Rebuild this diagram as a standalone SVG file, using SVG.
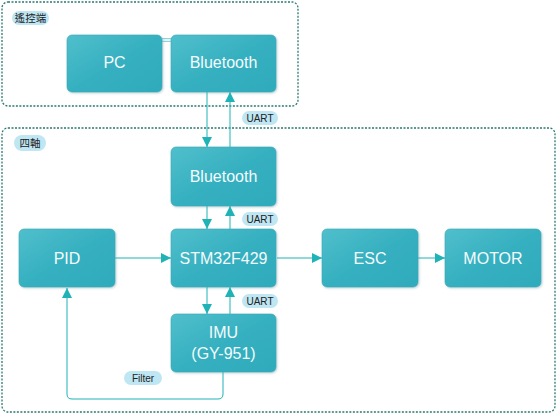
<svg xmlns="http://www.w3.org/2000/svg" width="559" height="418" viewBox="0 0 559 418">
<defs>
<linearGradient id="g" x1="0" y1="0" x2="1" y2="1">
<stop offset="0" stop-color="#50bfcc"/>
<stop offset="0.5" stop-color="#36b0c0"/>
<stop offset="1" stop-color="#2eabbc"/>
</linearGradient>
<marker id="ah" viewBox="0 0 10 10" refX="10" refY="5" markerWidth="10" markerHeight="10" markerUnits="userSpaceOnUse" orient="auto">
<path d="M0,0 L10,5 L0,10 z" fill="#1fb3b8"/>
</marker>
<filter id="sh" x="-10%" y="-10%" width="130%" height="130%">
<feDropShadow dx="1" dy="1" stdDeviation="0.8" flood-color="#6a9aa0" flood-opacity="0.45"/>
</filter>
</defs>
<style>
.ct{fill:#fff;stroke:#2a7a70;stroke-width:1.3;stroke-dasharray:2,1.5}
.nd{fill:url(#g);stroke:#3aa9b6;stroke-width:0.6;filter:url(#sh)}
.nt{font-family:"Liberation Sans",Arial,sans-serif;font-size:16px;fill:#f4fbfc;text-anchor:middle}
.pl{fill:#bfe6f3}
.pt{font-family:"Liberation Sans",Arial,sans-serif;font-size:10px;fill:#222;text-anchor:middle}
.ck{font-family:"Noto Sans CJK TC","Noto Sans CJK SC",sans-serif;font-size:10.5px;fill:#222;text-anchor:middle}
.ln{fill:none;stroke:#1fb3b8;stroke-width:1}
</style>
<g id="containers">
<rect class="ct" x="2" y="2" width="296" height="104" rx="6"/>
<rect class="ct" x="2" y="128" width="553" height="284" rx="6"/>
<rect class="pl" x="12" y="11" width="37" height="14" rx="7"/>
<text class="ck" x="30.5" y="22">遙控端</text>
<rect class="pl" x="14" y="135" width="32" height="16" rx="8"/>
<text class="ck" x="30" y="147">四軸</text>
</g>
<g id="connectors">
<line x1="162" y1="40" x2="172" y2="40" stroke="#8fd3da" stroke-width="4"/>
<line x1="162" y1="40" x2="172" y2="40" stroke="#fff" stroke-width="1.5"/>
<line class="ln" x1="207" y1="92" x2="207" y2="147" marker-end="url(#ah)"/>
<line class="ln" x1="230" y1="147" x2="230" y2="92" marker-end="url(#ah)"/>
<line class="ln" x1="207" y1="206" x2="207" y2="229" marker-end="url(#ah)"/>
<line class="ln" x1="230" y1="229" x2="230" y2="206" marker-end="url(#ah)"/>
<line class="ln" x1="207" y1="287" x2="207" y2="314" marker-end="url(#ah)"/>
<line class="ln" x1="230" y1="314" x2="230" y2="287" marker-end="url(#ah)"/>
<line class="ln" x1="115" y1="258" x2="171" y2="258" marker-end="url(#ah)"/>
<line class="ln" x1="277" y1="258" x2="322" y2="258" marker-end="url(#ah)"/>
<line class="ln" x1="418" y1="258" x2="445" y2="258" marker-end="url(#ah)"/>
<path class="ln" d="M223,372 V394 Q223,399 218,399 H72 Q67,399 67,394 V288" marker-end="url(#ah)"/>
<rect class="pl" x="242" y="111" width="36" height="14" rx="7"/>
<text class="pt" x="260" y="122">UART</text>
<rect class="pl" x="242" y="212" width="36" height="14" rx="7"/>
<text class="pt" x="260" y="223">UART</text>
<rect class="pl" x="242" y="294" width="36" height="14" rx="7"/>
<text class="pt" x="260" y="305">UART</text>
<rect class="pl" x="124" y="371" width="38" height="14" rx="7"/>
<text class="pt" x="143" y="382">Filter</text>
</g>
<g id="pc"><rect class="nd" x="67" y="35" width="95" height="57" rx="5"/><text class="nt" x="114.5" y="68">PC</text></g>
<g id="bt-remote"><rect class="nd" x="171" y="35" width="105" height="57" rx="5"/><text class="nt" x="223.5" y="68">Bluetooth</text></g>
<g id="bt-quad"><rect class="nd" x="171" y="147" width="105" height="59" rx="5"/><text class="nt" x="223.5" y="182">Bluetooth</text></g>
<g id="stm"><rect class="nd" x="171" y="229" width="105" height="58" rx="5"/><text class="nt" x="223.5" y="264">STM32F429</text></g>
<g id="imu"><rect class="nd" x="171" y="314" width="105" height="58" rx="5"/><text class="nt" x="223.5" y="338">IMU</text><text class="nt" x="223.5" y="359">(GY-951)</text></g>
<g id="pid"><rect class="nd" x="19" y="229" width="96" height="58" rx="5"/><text class="nt" x="67" y="264">PID</text></g>
<g id="esc"><rect class="nd" x="322" y="229" width="96" height="58" rx="5"/><text class="nt" x="370" y="264">ESC</text></g>
<g id="motor"><rect class="nd" x="445" y="229" width="96" height="58" rx="5"/><text class="nt" x="493" y="264">MOTOR</text></g>
</svg>
